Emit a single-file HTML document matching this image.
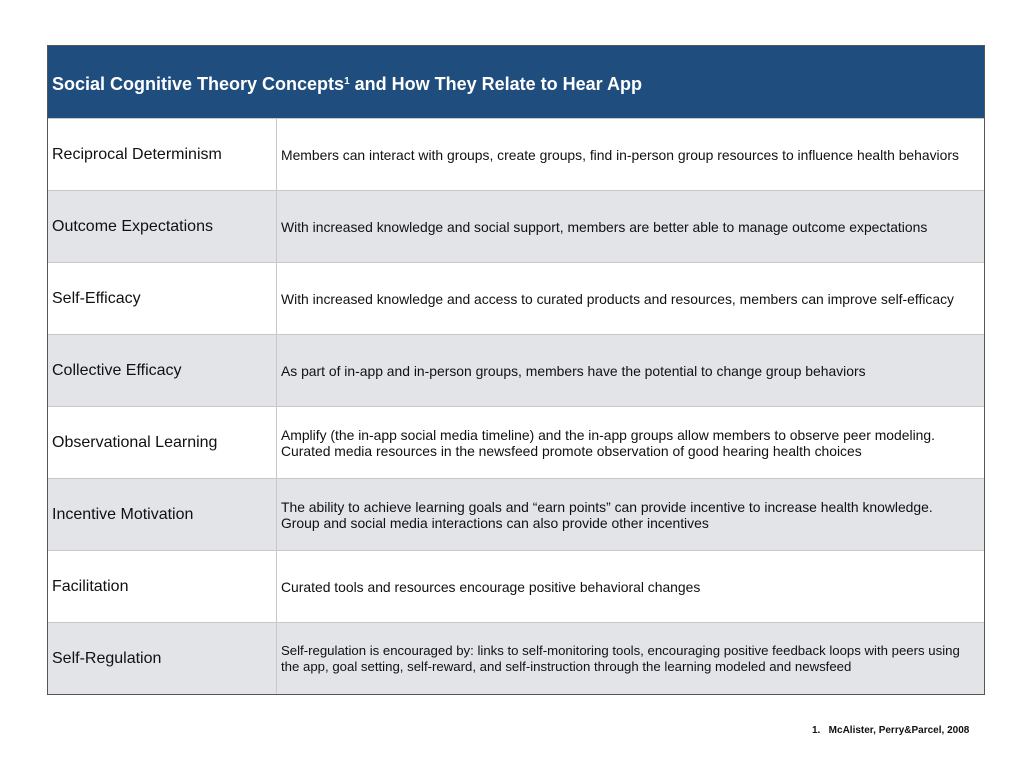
<!DOCTYPE html>
<html><head><meta charset="utf-8"><style>
body{margin:0;width:1024px;height:768px;background:#fff;font-family:"Liberation Sans",Arial,sans-serif;position:relative;overflow:hidden}
#tbl{position:absolute;left:47px;top:45px;width:936px;height:648px;border:1px solid #555;}
.hdr{position:absolute;left:0;top:0;width:936px;height:72px;background:#1f4d7d;color:#fff;font-weight:bold;font-size:18px;line-height:72px;padding-left:4px;box-sizing:border-box}
.hdr sup{font-size:10px;vertical-align:6px}
.row{position:absolute;left:0;width:936px;height:72px;border-top:1px solid #c8c8c8;box-sizing:border-box}
.row.g{background:#e3e4e8}
.c1{position:absolute;left:0;top:0;width:229px;height:71px;border-right:1px solid #c8c8c8;font-size:16px;color:#111;display:flex;align-items:center;padding-left:4px;box-sizing:border-box}
.c2{position:absolute;left:229px;top:0;width:707px;height:71px;font-size:13.9px;color:#111;display:flex;align-items:center;padding-left:4px;box-sizing:border-box;line-height:16px;white-space:nowrap}
.foot{position:absolute;left:812px;top:725px;font-size:10px;font-weight:bold;color:#111}
</style></head><body>
<div id="tbl">
<div class="hdr">Social Cognitive Theory Concepts<sup>1</sup> and How They Relate to Hear App</div>
<div class="row" style="top:72px"><div class="c1">Reciprocal Determinism</div><div class="c2">Members can interact with groups, create groups, find in-person group resources to influence health behaviors</div></div>
<div class="row g" style="top:144px"><div class="c1">Outcome Expectations</div><div class="c2">With increased knowledge and social support, members are better able to manage outcome expectations</div></div>
<div class="row" style="top:216px"><div class="c1">Self-Efficacy</div><div class="c2">With increased knowledge and access to curated products and resources, members can improve self-efficacy</div></div>
<div class="row g" style="top:288px"><div class="c1">Collective Efficacy</div><div class="c2">As part of in-app and in-person groups, members have the potential to change group behaviors</div></div>
<div class="row" style="top:360px"><div class="c1">Observational Learning</div><div class="c2">Amplify (the in-app social media timeline) and the in-app groups allow members to observe peer modeling.<br>Curated media resources in the newsfeed promote observation of good hearing health choices</div></div>
<div class="row g" style="top:432px"><div class="c1">Incentive Motivation</div><div class="c2">The ability to achieve learning goals and “earn points” can provide incentive to increase health knowledge.<br>Group and social media interactions can also provide other incentives</div></div>
<div class="row" style="top:504px"><div class="c1">Facilitation</div><div class="c2">Curated tools and resources encourage positive behavioral changes</div></div>
<div class="row g" style="top:576px"><div class="c1">Self-Regulation</div><div class="c2" style="font-size:13.2px">Self-regulation is encouraged by: links to self-monitoring tools, encouraging positive feedback loops with peers using<br>the app, goal setting, self-reward, and self-instruction through the learning modeled and newsfeed</div></div>
</div>
<div class="foot">1.&nbsp;&nbsp;&nbsp;McAlister, Perry&amp;Parcel, 2008</div>
</body></html>
